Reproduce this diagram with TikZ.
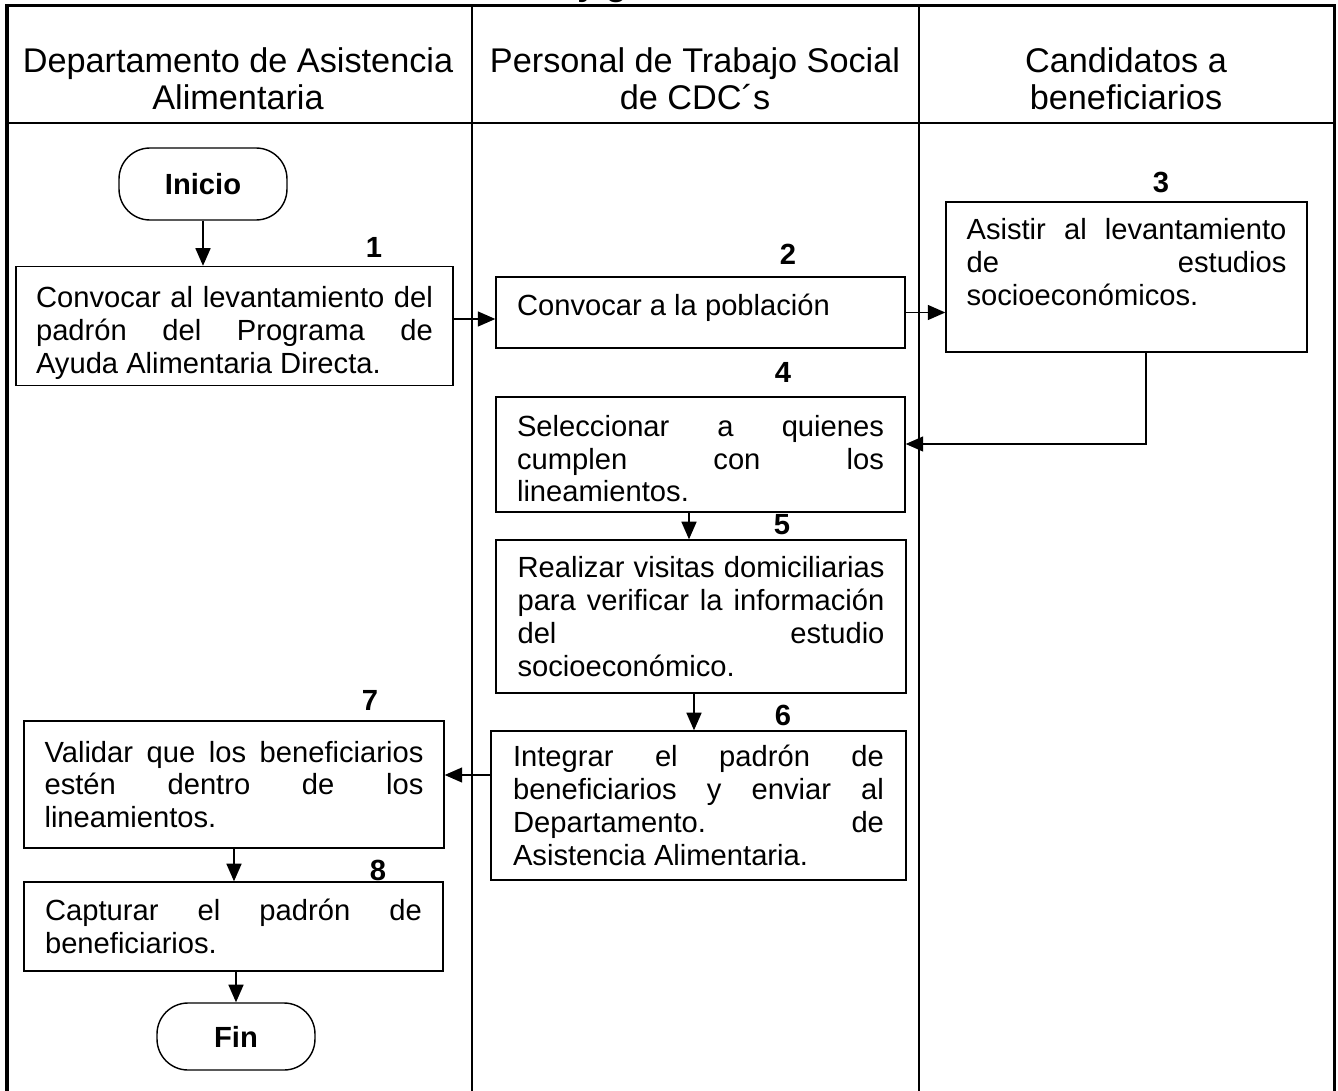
\documentclass[tikz,border=0pt]{standalone}
\usepackage{fontspec}
\setmainfont{Liberation Sans}
\usetikzlibrary{arrows.meta}

\hyphenpenalty=10000
\exhyphenpenalty=10000

\tikzset{
  caja/.style={draw, line width=0.8pt, align=justify, inner xsep=0.42cm,
    font=\fontsize{16.6}{18.7}\selectfont},
  terminal/.style={draw, line width=0.8pt, rounded corners=0.62cm,
    font=\fontsize{16.6}{18.7}\selectfont\bfseries},
  flecha/.style={line width=1pt, -{Triangle[length=10pt,width=8.5pt]}}
}

\begin{document}
\begin{tikzpicture}[x=0.02cm, y=-0.02cm]

        \useasboundingbox (0,0) rectangle (1338,1091);
        \clip (0,0) rectangle (1338,1091);

        \node[anchor=base west, inner sep=0pt, font=\fontsize{19.5}{21}\selectfont\bfseries] (titulo) at (577,-4) {y g};

        \draw[line width=2.1pt] (7,1091) -- (7,5.5) -- (1334.5,5.5) -- (1334.5,1091);
        \draw[line width=1.3pt] (472,5.5) -- (472,1091);
        \draw[line width=1.3pt] (919,5.5) -- (919,1091);
        \draw[line width=0.6pt] (7,123) -- (1334.5,123);

        \begin{scope}[every node/.style={align=center, font=\fontsize{19.5}{21}\selectfont}]
          \node (h1) at (238,79)  {Departamento de Asistencia\\Alimentaria};
          \node (h2) at (695,79)  {Personal de Trabajo Social\\de CDC´s};
          \node (h3) at (1126,79) {Candidatos a\\beneficiarios};
        \end{scope}

        \node[terminal, minimum width=3.36cm, minimum height=1.44cm] (inicio) at (203,184) {Inicio};
        \node[terminal, minimum width=3.16cm, minimum height=1.34cm] (fin) at (236,1036.5) {Fin};

        \begin{scope}[every node/.append style={caja}]
          \node[text width=7.94cm, inner xsep=0.4cm, minimum height=2.36cm] (b1) at (234.5,326)
            {\rule{0pt}{0.71cm}Convocar al levantamiento del\linebreak padrón del Programa de\linebreak Ayuda Alimentaria Directa.};
          \node[text width=7.34cm, minimum height=1.42cm] (b2) at (700.5,312.5)
            {Convocar a la población\rule[-0.29cm]{0pt}{0pt}};
          \node[text width=6.4cm, inner xsep=0.41cm, minimum height=3.0cm] (b3) at (1126.5,277)
            {Asistir al levantamiento\linebreak de estudios\linebreak socioeconómicos.\rule[-0.61cm]{0pt}{0pt}};
          \node[text width=7.34cm, minimum height=2.3cm] (b4) at (700.5,454.5)
            {\rule{0pt}{0.59cm}Seleccionar a quienes\linebreak cumplen con los\linebreak lineamientos.};
          \node[text width=7.34cm, inner xsep=0.43cm, minimum height=3.06cm] (b5) at (701,616.5)
            {Realizar visitas domiciliarias\linebreak para verificar la información\linebreak del estudio\linebreak socioeconómico.};
          \node[text width=7.42cm, inner xsep=0.44cm, minimum height=2.98cm] (b6) at (698.5,805.5)
            {Integrar el padrón de\linebreak beneficiarios y enviar al\linebreak Departamento. de\linebreak Asistencia Alimentaria.};
          \node[text width=7.58cm, inner xsep=0.41cm, minimum height=2.54cm] (b7) at (234,784.5)
            {Validar que los beneficiarios\linebreak estén dentro de los\linebreak lineamientos.};
          \node[text width=7.54cm, minimum height=1.78cm] (b8) at (233.5,926.5)
            {Capturar el padrón de\linebreak beneficiarios.};
        \end{scope}

        \begin{scope}[every node/.style={font=\fontsize{16.6}{18.7}\selectfont\bfseries}]
          \node (n1) at (374,247)  {1};
          \node (n2) at (788,254)  {2};
          \node (n3) at (1161,182) {3};
          \node (n4) at (783,372)  {4};
          \node (n5) at (782,525)  {5};
          \node (n6) at (783,715)  {6};
          \node (n7) at (370,700)  {7};
          \node (n8) at (378,870)  {8};
        \end{scope}

        \coordinate (c12) at (474,319);
        \coordinate (codo) at (1146,444);
        \coordinate (c45) at (689,0);
        \coordinate (c56) at (694,0);
        \coordinate (c67) at (0,775);

        \begin{scope}[every edge/.style={draw, flecha}]
          \path (inicio) edge (inicio |- b1.north);
          \path (c12 -| b1.east) edge (c12 -| b2.west);
          \path (b2.east) edge (b2.east -| b3.west);
          \path (c45 |- b4.south) edge (c45 |- b5.north);
          \path (c56 |- b5.south) edge (c56 |- b6.north);
          \path (c67 -| b6.west) edge (c67 -| b7.east);
          \path (b7.south) edge (b7.south |- b8.north);
          \path (fin |- b8.south) edge (fin);
        \end{scope}
        \draw[flecha] (codo |- b3.south) -- (codo) -- (codo -| b4.east);

      \end{tikzpicture}
\end{document}
